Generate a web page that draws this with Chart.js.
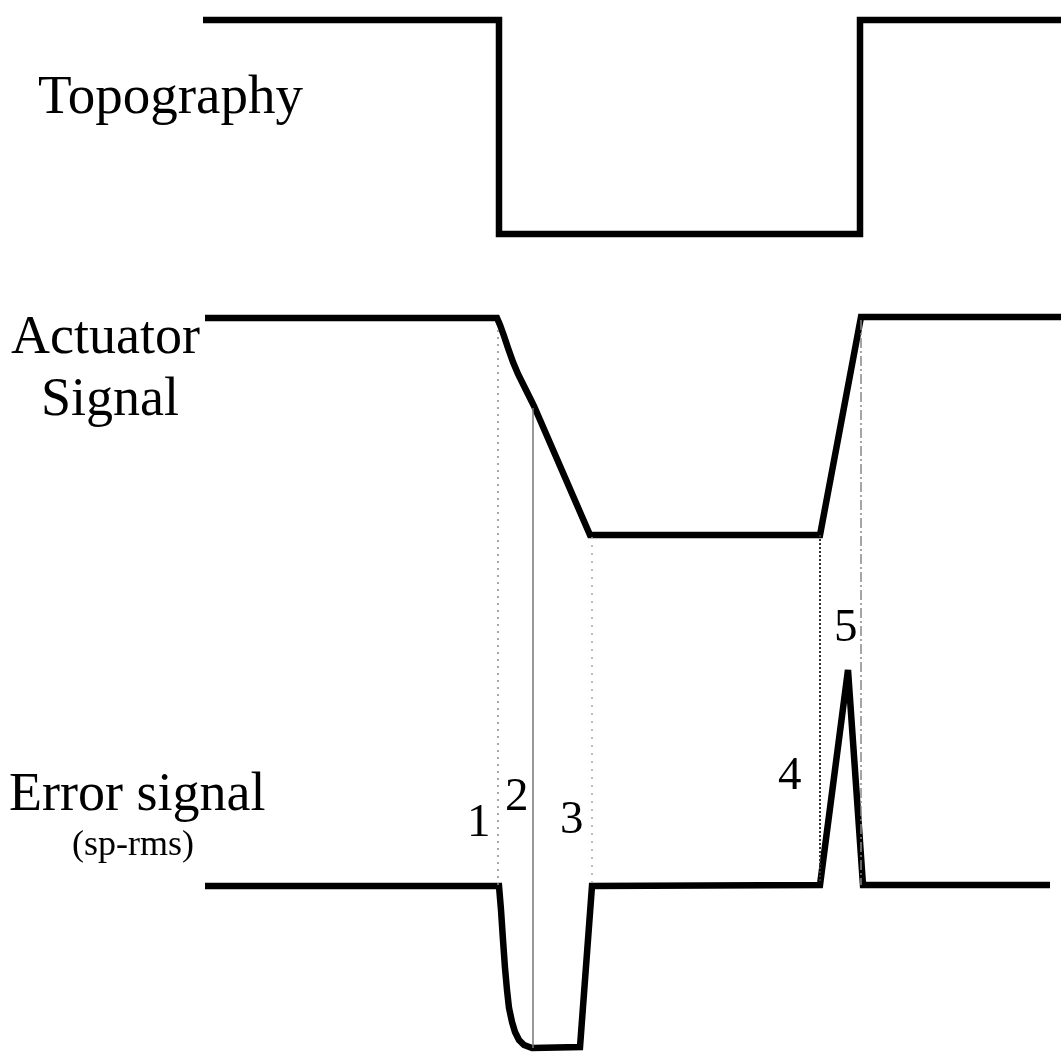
<!DOCTYPE html>
<html>
<head>
<meta charset="utf-8">
<script src="https://cdn.jsdelivr.net/npm/chart.js@4.4.0/dist/chart.umd.min.js"></script>
<style>
  html, body { margin: 0; padding: 0; background: #fff; }
  #wrap { width: 1061px; height: 1057px; }
</style>
</head>
<body>
<div id="wrap"><canvas id="feedbackChart" width="1061" height="1057"></canvas></div>
<script>
// trace values (x = scan position, y = level, both in figure units)
const topoX = [203, 499, 499, 860, 860, 1061];
const topoY = [20, 20, 234, 234, 20, 20];

const actX = [205, 497, 500, 504, 508, 513, 518, 524, 529, 534, 590, 820, 861, 1061];
const actY = [318, 318, 325, 336, 348, 362, 374, 386, 396, 406, 535, 535, 317, 317];

const errX = [205, 499, 501, 503, 505, 507, 509, 512, 515, 519, 524, 532, 580, 592, 820, 848, 863, 1050];
const errY = [886, 886, 910, 940, 968, 990, 1008, 1022, 1032, 1040, 1045, 1048, 1047, 886, 885, 670, 885, 885];

// region markers 1..5 (x, from-level, to-level)
const markX    = [498, 533, 592, 820, 861];
const markFrom = [330, 408, 537, 535, 320];
const markTo   = [885, 1048, 885, 883, 885];

const traceLabels = ['Topography', 'Actuator', 'Signal', 'Error signal', '(sp-rms)'];
const regionLabels = ['1', '2', '3', '4', '5'];

const toPts = (xs, ys) => xs.map((x, i) => ({ x: x, y: ys[i] }));

const traceStyle = {
    borderColor: '#000',
    borderWidth: 6.5,
    pointRadius: 0,
    showLine: true,
    tension: 0,
    fill: false,
    borderJoinStyle: 'miter',
    borderCapStyle: 'butt'
};

// dash look of every marker line, in order
const markStyles = [
    { color: '#8a8a8a', width: 1.5, dash: [2, 5] },
    { color: '#777', width: 1.5, dash: [] },
    { color: '#aaa', width: 1.5, dash: [2, 6] },
    { color: '#333', width: 2, dash: [2, 2] },
    { color: '#888', width: 1.5, dash: [10, 3, 2, 3] }
];

const datasets = [];
markX.forEach((x, i) => {
    datasets.push({
        data: [{ x: x, y: markFrom[i] }, { x: x, y: markTo[i] }],
        borderColor: markStyles[i].color,
        borderWidth: markStyles[i].width,
        borderDash: markStyles[i].dash,
        pointRadius: 0,
        showLine: true,
        fill: false
    });
});
datasets.push(Object.assign({ data: toPts(topoX, topoY) }, traceStyle));
datasets.push(Object.assign({ data: toPts(actX, actY) }, traceStyle));
datasets.push(Object.assign({ data: toPts(errX, errY) }, traceStyle));

// where each text goes, in figure units (left edge, baseline)
const textSpots = [
    { t: traceLabels[0], x: 38, y: 113, size: 55 },
    { t: traceLabels[1], x: 11, y: 353, size: 54 },
    { t: traceLabels[2], x: 41, y: 415, size: 54 },
    { t: traceLabels[3], x: 9, y: 810, size: 54 },
    { t: traceLabels[4], x: 72, y: 855, size: 36 },
    { t: regionLabels[0], x: 467, y: 836, size: 47 },
    { t: regionLabels[1], x: 505, y: 810, size: 47 },
    { t: regionLabels[2], x: 560, y: 833, size: 47 },
    { t: regionLabels[3], x: 778, y: 789, size: 47 },
    { t: regionLabels[4], x: 834, y: 641, size: 47 }
];

const textPlugin = {
    id: 'textPlugin',
    afterDatasetsDraw(chart) {
        const ctx = chart.ctx;
        const sx = chart.scales.x, sy = chart.scales.y;
        ctx.save();
        ctx.fillStyle = '#000';
        ctx.textAlign = 'left';
        ctx.textBaseline = 'alphabetic';
        textSpots.forEach(s => {
            ctx.font = s.size + 'px "Liberation Serif", "Times New Roman", serif';
            ctx.fillText(s.t, sx.getPixelForValue(s.x), sy.getPixelForValue(s.y));
        });
        ctx.restore();
    }
};

const ctx = document.getElementById('feedbackChart').getContext('2d');
new Chart(ctx, {
    type: 'scatter',
    data: { datasets: datasets },
    options: {
        responsive: false,
        animation: false,
        layout: { padding: 0 },
        plugins: { legend: { display: false }, tooltip: { enabled: false } },
        scales: {
            x: { type: 'linear', min: 0, max: 1061, display: false },
            y: { type: 'linear', min: 0, max: 1057, reverse: true, display: false }
        }
    },
    plugins: [textPlugin]
});
</script>
</body>
</html>
